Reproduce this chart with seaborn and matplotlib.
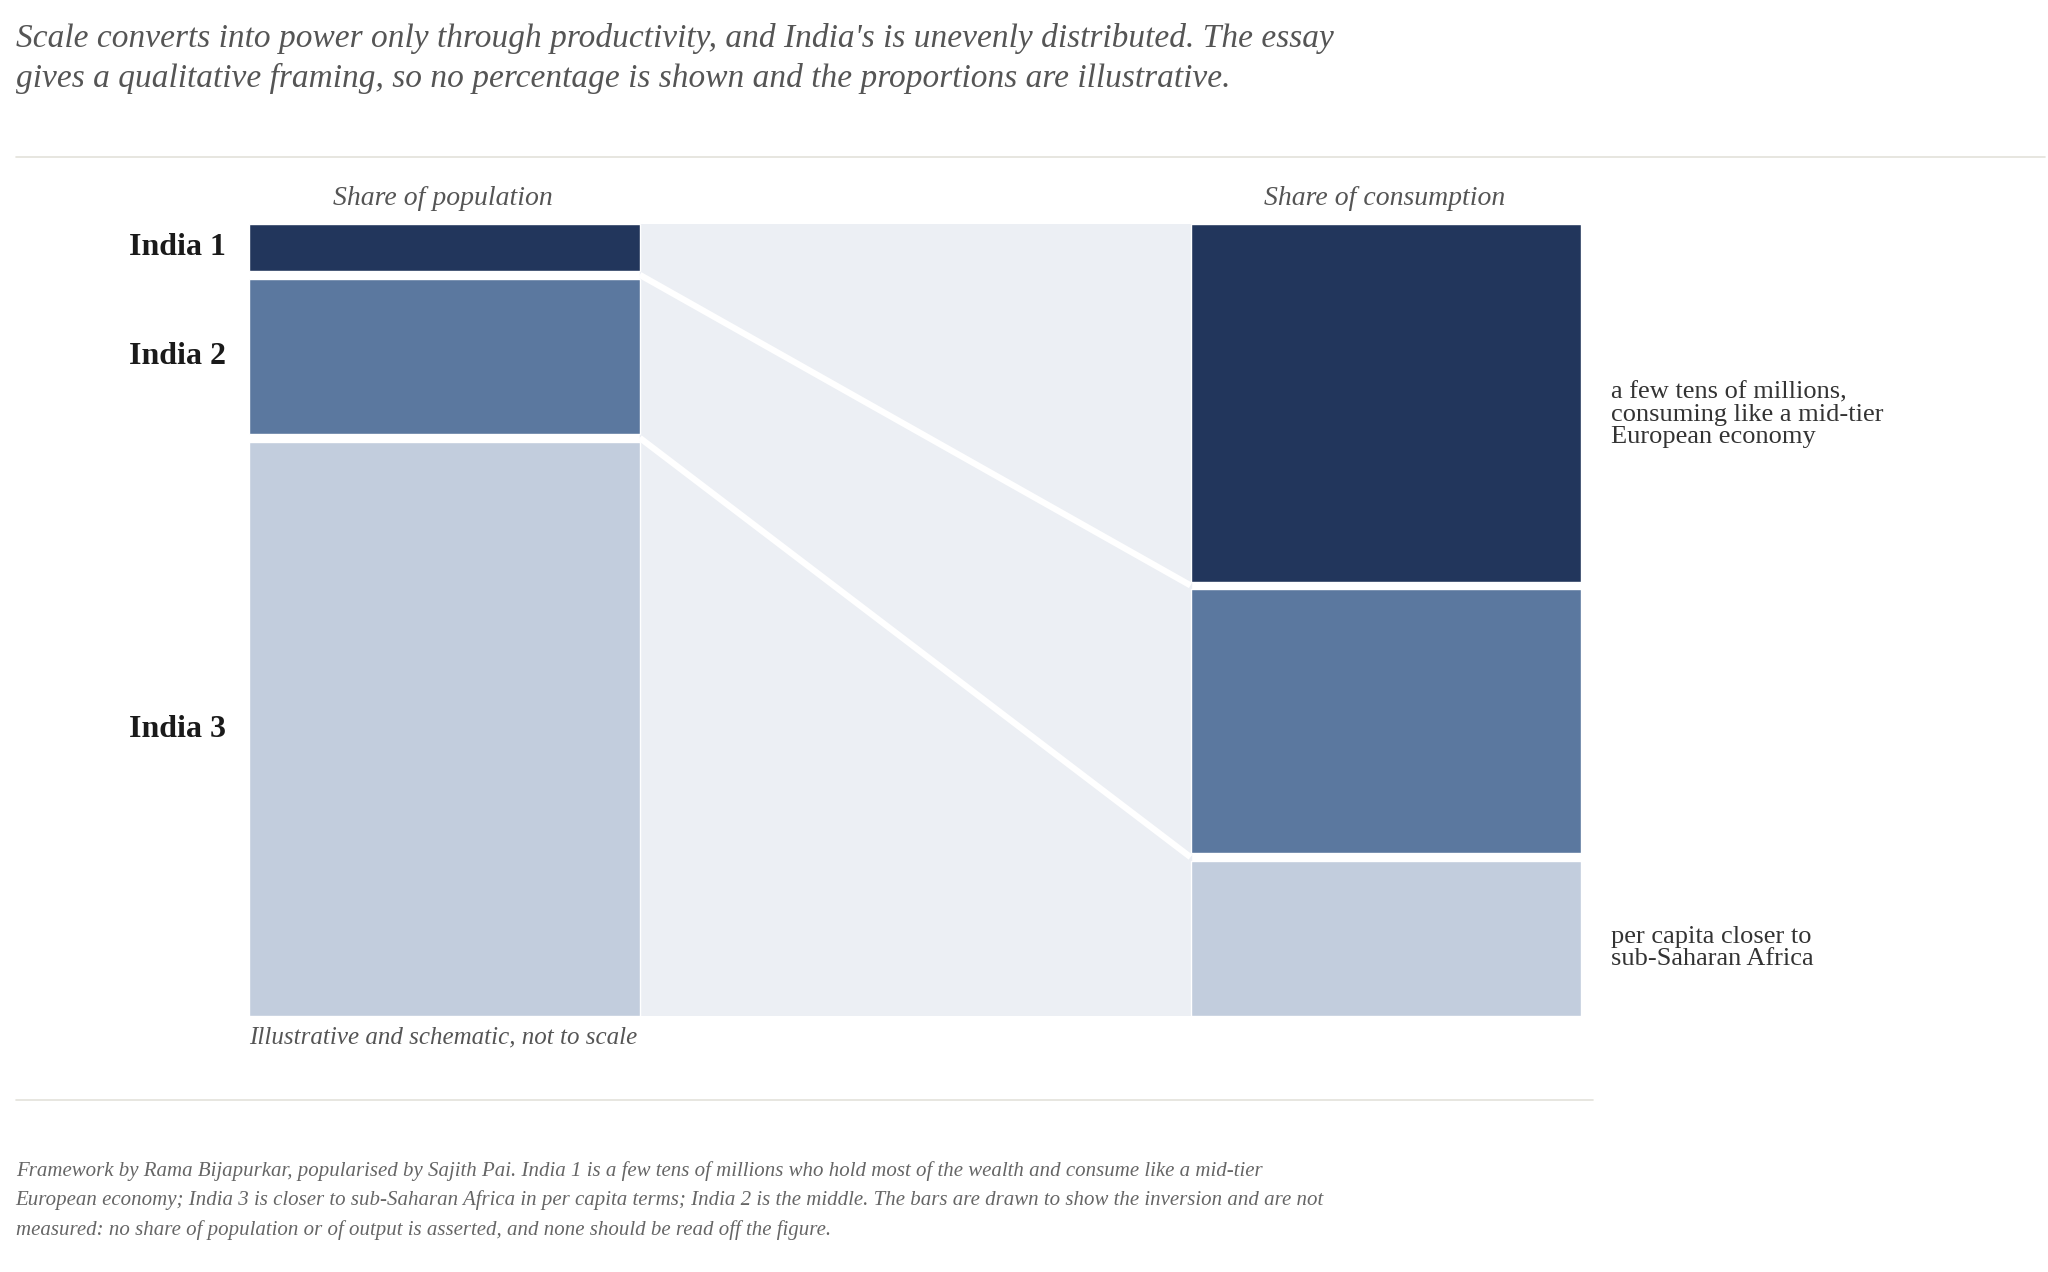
import matplotlib
matplotlib.use("Agg")
import matplotlib.pyplot as plt
import seaborn as sns
from matplotlib.lines import Line2D

# Illustrative shares (schematic)
groups = ["India 1", "India 2", "India 3"]
population_share = [6, 20, 74]
consumption_share = [46, 34, 20]
columns = ["Share of population", "Share of consumption"]
colors = ["#22365C", "#5B789F", "#C2CDDD"]

sns.set_theme(style="white")
plt.rcParams["font.family"] = ["Liberation Serif", "DejaVu Serif"]

W, H = 1562, 975  # layout reference grid
fig = plt.figure(figsize=(20.48, 12.72), dpi=100)
fig.patch.set_facecolor("white")

def fx(px):
    return px / W

def fy(py):
    return 1 - py / H

ax = fig.add_axes([fx(190), fy(779), fx(1206) - fx(190), fy(172) - fy(779)])
w = 0.415
gap = 1.0
ax.set_xlim(-w / 2, 1 + w / 2)
ax.set_ylim(100 + 2 * gap, 0)
ax.axis("off")
ax.axvspan(w / 2, 1 - w / 2, color="#ECEFF4", zorder=0)

edges = {}
for xi, vals in enumerate([population_share, consumption_share]):
    top = 0
    edges[xi] = []
    for v, c in zip(vals, colors):
        ax.bar(xi, v, bottom=top, width=w, color=c, align="center", zorder=2)
        top += v
        edges[xi].append(top + gap / 2)
        top += gap

for k in range(2):
    ax.plot([w / 2, 1 - w / 2], [edges[0][k], edges[1][k]], color="white", lw=4.5, zorder=1,
            solid_capstyle="butt")

# group labels centred on population segments
top = 0
for g, v in zip(groups, population_share):
    mid = top + v / 2
    ax.text(-w / 2 - 0.025, mid, g, ha="right", va="center", fontsize=23, fontweight="bold",
            color="#1A1A1A")
    top += v + gap

for xi, name in enumerate(columns):
    fig.text(fx(338 if xi == 0 else 1056), fy(152), name, ha="center", va="center",
             fontsize=20, style="italic", color="#555555")

fig.text(fx(1229), fy(318), "a few tens of millions,\nconsuming like a mid-tier\nEuropean economy",
         ha="left", va="center", fontsize=19, color="#333333", linespacing=1.0)
fig.text(fx(1229), fy(727), "per capita closer to\nsub-Saharan Africa",
         ha="left", va="center", fontsize=19, color="#333333", linespacing=1.0)

fig.text(fx(338), fy(795), "Illustrative and schematic, not to scale", ha="center", va="center",
         fontsize=18, style="italic", color="#555555")

fig.text(fx(12), fy(45),
         "Scale converts into power only through productivity, and India's is unevenly distributed. The essay\n"
         "gives a qualitative framing, so no percentage is shown and the proportions are illustrative.",
         ha="left", va="center", fontsize=24, style="italic", color="#555555", linespacing=1.35)

fig.text(fx(12), fy(920),
         "Framework by Rama Bijapurkar, popularised by Sajith Pai. India 1 is a few tens of millions who hold most of the wealth and consume like a mid-tier\n"
         "European economy; India 3 is closer to sub-Saharan Africa in per capita terms; India 2 is the middle. The bars are drawn to show the inversion and are not\n"
         "measured: no share of population or of output is asserted, and none should be read off the figure.",
         ha="left", va="center", fontsize=15, style="italic", color="#666666", linespacing=1.65)

fig.add_artist(Line2D([fx(12), fx(1560)], [fy(120), fy(120)], color="#E3E1DA", lw=1.2))
fig.add_artist(Line2D([fx(12), fx(1215)], [fy(843), fy(843)], color="#E3E1DA", lw=1.2))

fig.savefig("out.png", dpi=100, facecolor="white")
